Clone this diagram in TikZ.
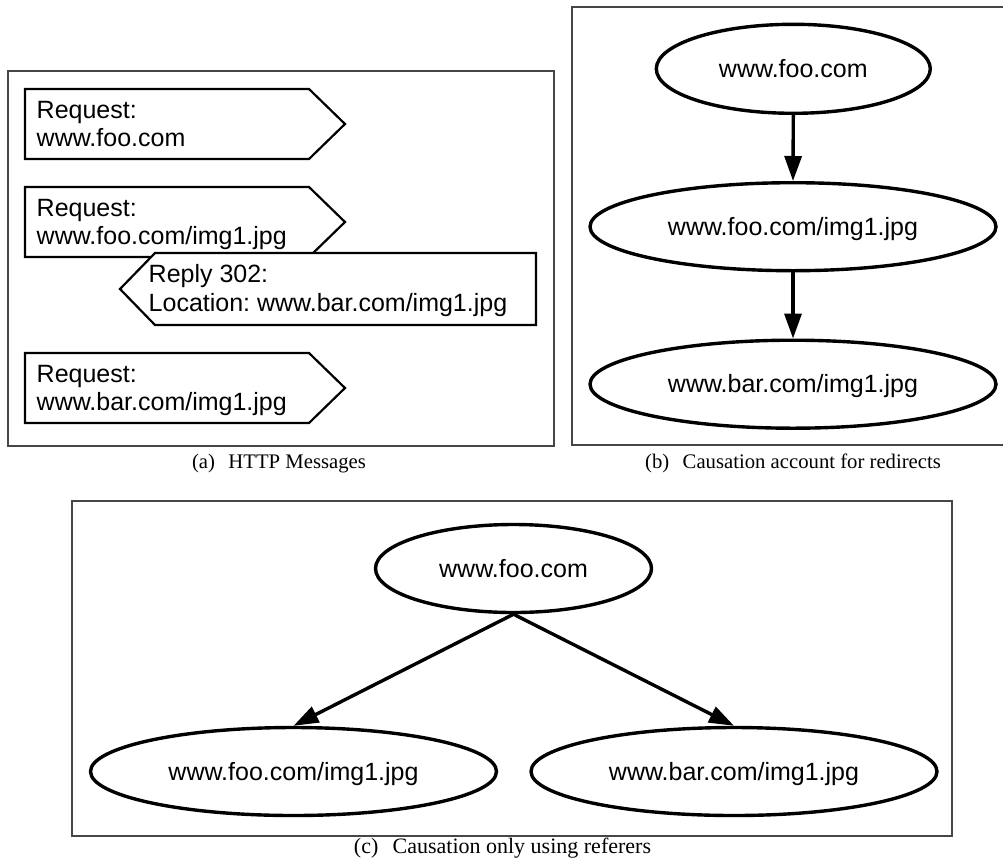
\documentclass[tikz,border=0pt]{standalone}
\usepackage{fontspec}
\setmainfont{Liberation Serif}
\newfontfamily\arialfont{Liberation Sans}
\usetikzlibrary{shapes.geometric,arrows.meta}
\definecolor{framegray}{RGB}{70,70,70}
\frenchspacing
\begin{document}
\begin{tikzpicture}[x=1pt,y=-1pt,
  frame/.style={draw=framegray, line width=1.5pt},
  msg/.style={draw=black, line width=2.2pt, fill=white, line join=miter},
  msgtext/.style={anchor=base west, inner sep=0pt, font=\arialfont\fontsize{25}{29}\selectfont},
  url/.style={ellipse, draw=black, line width=3.4pt, inner sep=0pt, text height=17pt, text depth=0pt,
    font=\arialfont\fontsize{25}{29}\selectfont, minimum height=88pt},
  link/.style={line width=3.4pt, -{Triangle[length=25pt,width=17pt]}},
  subcap/.style={anchor=base, inner sep=0pt, font=\fontsize{20.7}{25}\selectfont}]
\useasboundingbox (0,0) rectangle (1003,865);

% ---------- panel (a) ----------
\draw[frame] (8,71) rectangle (554,446);
\draw[msg] (25,89) -- (309,89) -- (345,124) -- (309,159) -- (25,159) -- cycle;
\node[msgtext] (r1a) at (36.5,118) {Request:};
\node[msgtext] (r1b) at (36.5,146.5) {www.foo.com};

\draw[msg] (25,187) -- (309,187) -- (345,222) -- (309,257) -- (25,257) -- cycle;
\node[msgtext] (r2a) at (36.5,216) {Request:};
\node[msgtext] (r2b) at (36.5,244.5) {www.foo.com/img1.jpg};

\draw[msg] (155,253) -- (536,253) -- (536,325) -- (155,325) -- (120,289) -- cycle;
\node[msgtext] (rpa) at (148.5,282.5) {Reply 302:};
\node[msgtext] (rpb) at (148.5,311) {Location: www.bar.com/img1.jpg};

\draw[msg] (25,353) -- (309,353) -- (345,388) -- (309,423) -- (25,423) -- cycle;
\node[msgtext] (r3a) at (36.5,382) {Request:};
\node[msgtext] (r3b) at (36.5,410.5) {www.bar.com/img1.jpg};

\node[subcap] (capa) at (279,468) {(a)\hskip0.65em HTTP Messages};

% ---------- panel (b) ----------
\draw[frame] (1004,7) -- (572,7) -- (572,445) -- (1004,445);
\node[url, minimum width=274pt, minimum height=89pt] (b1) at (793.3,68.8) {www.foo.com};
\node[url, minimum width=406pt] (b2) at (793,226.7) {www.foo.com/img1.jpg};
\node[url, minimum width=406pt] (b3) at (793,384.2) {www.bar.com/img1.jpg};
\draw[link] (b1.south) -- (b2.north);
\draw[link] (b2.south) -- (b3.north);
\node[subcap] (capb) at (793,468) {(b)\hskip0.65em Causation account for redirects};

% ---------- panel (c) ----------
\draw[frame] (72,501) rectangle (952,836);
\node[url, minimum width=276pt] (c1) at (513.5,568.5) {www.foo.com};
\node[url, minimum width=406pt] (c2) at (293.5,771.5) {www.foo.com/img1.jpg};
\node[url, minimum width=406pt] (c3) at (734,771.5) {www.bar.com/img1.jpg};
\draw[link] (c1.south) -- (c2.north);
\draw[link] (c1.south) -- (c3.north);
\node[subcap, font=\fontsize{22}{26}\selectfont] (capc) at (502.5,853) {(c)\hskip0.65em Causation only using referers};
\end{tikzpicture}
\end{document}
